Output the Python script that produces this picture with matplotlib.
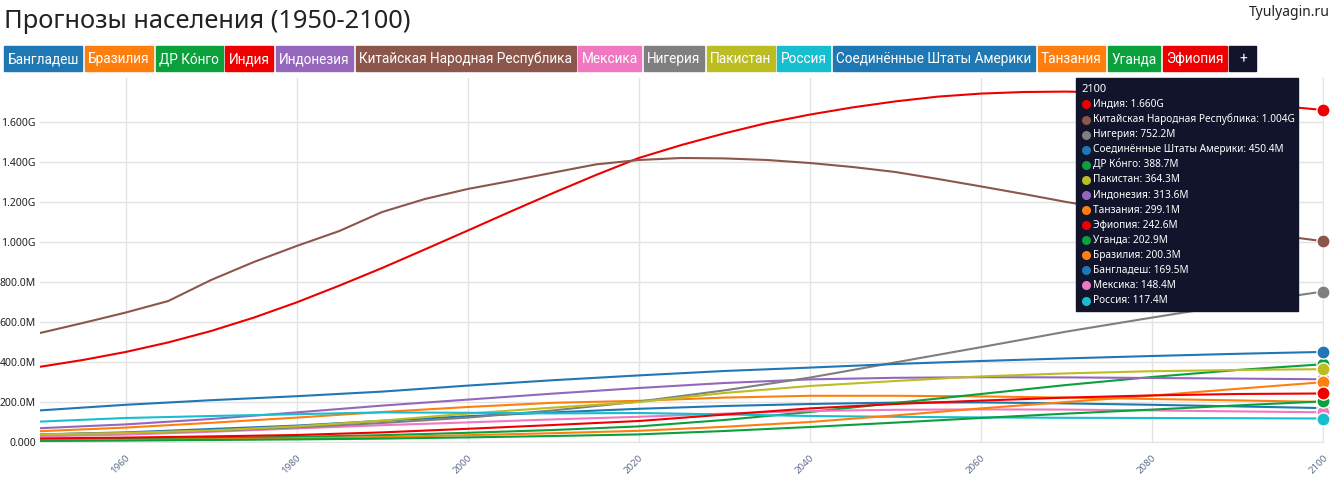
import matplotlib
matplotlib.use('Agg')
import matplotlib.pyplot as plt
from matplotlib.patches import Rectangle
from matplotlib.ticker import FuncFormatter

# population forecasts, millions, every 10 years
years = [1950, 1960, 1970, 1980, 1990, 2000, 2010, 2020,
         2030, 2040, 2050, 2060, 2070, 2080, 2090, 2100]
# India and China read every 5 years (their curves bend more)
years5 = list(range(1950, 2101, 5))

bangladesh = [38, 48, 65, 82, 106, 129, 148, 166, 180, 190, 197, 198, 193, 186, 178, 169.5]
brazil = [54, 72, 96, 122, 150, 175, 196, 206, 222, 231, 231, 228, 222, 215, 208, 200.3]
drcongo = [12, 15, 20, 26, 34, 46, 60, 78, 110, 150, 195, 240, 285, 325, 360, 388.7]
india = [376, 410, 450, 498, 555, 622, 698, 782, 870, 963, 1057, 1152, 1245, 1335, 1420,
         1485, 1543, 1595, 1637, 1673, 1703, 1727, 1742, 1750, 1752, 1747, 1735, 1720,
         1700, 1680, 1660]
indonesia = [69, 88, 115, 148, 182, 212, 242, 270, 295, 313, 321, 324, 323, 320, 317, 313.6]
china = [545, 595, 647, 705, 810, 900, 980, 1055, 1150, 1215, 1265, 1305, 1347, 1388, 1410,
         1420, 1418, 1410, 1395, 1375, 1350, 1315, 1278, 1240, 1200, 1165, 1130, 1095,
         1062, 1032, 1004]
mexico = [28, 37, 51, 68, 84, 98, 113, 126, 142, 155, 161, 163, 162, 158, 153, 148.4]
nigeria = [38, 45, 56, 73, 95, 122, 158, 202, 258, 322, 398, 474, 552, 622, 690, 752.2]
pakistan = [38, 45, 58, 78, 107, 142, 172, 200, 245, 280, 305, 328, 343, 354, 360, 364.3]
russia = [102, 120, 130, 139, 148, 146, 143, 145, 138, 130, 126, 123, 121, 120, 119, 117.4]
usa = [158, 186, 209, 229, 252, 282, 309, 333, 355, 372, 390, 405, 418, 430, 441, 450.4]
tanzania = [8, 10, 13, 18, 25, 34, 44, 56, 76, 100, 133, 168, 200, 232, 266, 299.1]
uganda = [5, 7, 10, 13, 17, 23, 30, 38, 55, 75, 97, 120, 142, 162, 183, 202.9]
ethiopia = [18, 22, 28, 35, 48, 66, 85, 105, 137, 168, 190, 207, 222, 233, 240, 242.6]

names = ['Бангладеш', 'Бразилия', 'ДР Ко́нго', 'Индия', 'Индонезия',
         'Китайская Народная Республика', 'Мексика', 'Нигерия', 'Пакистан',
         'Россия', 'Соединённые Штаты Америки', 'Танзания', 'Уганда', 'Эфиопия']
series = [bangladesh, brazil, drcongo, india, indonesia, china, mexico,
          nigeria, pakistan, russia, usa, tanzania, uganda, ethiopia]
colors = ['#1f77b4', '#ff7f0e', '#0aa03c', '#ee0000', '#9467bd', '#8c564b',
          '#f077c0', '#7f7f7f', '#bcbd22', '#17becf', '#1f77b4', '#ff7f0e',
          '#0aa03c', '#ee0000']

W, H = 1337, 487
dark = '#11142b'
font = ['Noto Sans', 'DejaVu Sans']
plt.rcParams['font.family'] = font

fig = plt.figure(figsize=(W / 100, H / 100), dpi=100)

def fx(x):
    return x / W

def fy(y):
    return 1 - y / H

ax = fig.add_axes([fx(40), fy(442), fx(1323) - fx(40), fy(78) - fy(442)])

for name, vals, col in zip(names, series, colors):
    xs = years5 if len(vals) == len(years5) else years
    ax.plot(xs, [v * 1e6 for v in vals], color=col, lw=1.5, solid_capstyle='round')

for name, vals, col in zip(names, series, colors):
    ax.plot(2100, vals[-1] * 1e6, 'o', color=col, ms=9.5, mec='white', mew=1,
            clip_on=False, zorder=5)

def fmt(v, pos):
    if v == 0:
        return '0.000'
    if v >= 1e9:
        return '%.3fG' % (v / 1e9)
    return '%.1fM' % (v / 1e6)

ax.set_xlim(1950, 2100)
ax.set_ylim(0, 1.82e9)
ax.set_yticks([i * 2e8 for i in range(9)])
ax.yaxis.set_major_formatter(FuncFormatter(fmt))
ax.set_xticks(range(1960, 2101, 20))
ax.grid(True, color='#e3e3e3', lw=1)
ax.set_axisbelow(True)
for s in ['top', 'left']:
    ax.spines[s].set_visible(False)
ax.spines['bottom'].set_color('#e3e3e3')
ax.spines['right'].set_color('#e3e3e3')
ax.tick_params(length=0, labelsize=7.5, colors='#222222', pad=3)
ax.tick_params(axis='x', labelsize=7, labelcolor='#5d6b8a', pad=8)
for lab in ax.get_xticklabels():
    lab.set_rotation(45)
    lab.set_ha('right')
    lab.set_va('top')
    lab.set_rotation_mode('anchor')

# title and site name
fig.text(fx(4), fy(21), 'Прогнозы населения (1950-2100)', fontsize=18.3,
         color='#222222', va='center', ha='left')
fig.text(fx(1330), fy(12), 'Tyulyagin.ru', fontsize=10, color='#222222',
         va='center', ha='right')

# legend buttons
renderer = fig.canvas.get_renderer()
x = 4
labels = names + ['+']
box_cols = colors + [dark]
for lab, col in zip(labels, box_cols):
    t = fig.text(0, fy(59), lab, fontsize=9.8, color='white', va='center', ha='left',
                 family=['Roboto', 'DejaVu Sans'], zorder=3)
    w = t.get_window_extent(renderer).width
    bw = w + 7 if lab != '+' else 27
    fig.patches.append(Rectangle((fx(x), fy(71)), fx(bw), fy(46) - fy(71),
                                 transform=fig.transFigure, color=col, zorder=2))
    t.set_position((fx(x + bw / 2), fy(59)))
    t.set_ha('center')
    x += bw + 2.5

# tooltip for 2100
fig.patches.append(Rectangle((fx(1076), fy(311)), fx(1298) - fx(1076), fy(78) - fy(311),
                             transform=fig.transFigure, color=dark, zorder=10))
fig.text(fx(1081), fy(90), '2100', fontsize=8, color='white', weight='bold',
         va='center', ha='left', zorder=11)
order = sorted(range(len(names)), key=lambda i: -series[i][-1])
for k, i in enumerate(order):
    yy = 104.5 + k * 15.08
    v = series[i][-1] * 1e6
    fig.text(fx(1093), fy(yy), names[i] + ': ' + fmt(v, None), fontsize=7.25,
             color='white', va='center', ha='left', zorder=11)
    fig.lines.append(plt.Line2D([fx(1086)], [fy(yy)], marker='o', ms=6.5, color=colors[i],
                                mew=0, transform=fig.transFigure, zorder=11))

fig.savefig('out.png', dpi=100)
